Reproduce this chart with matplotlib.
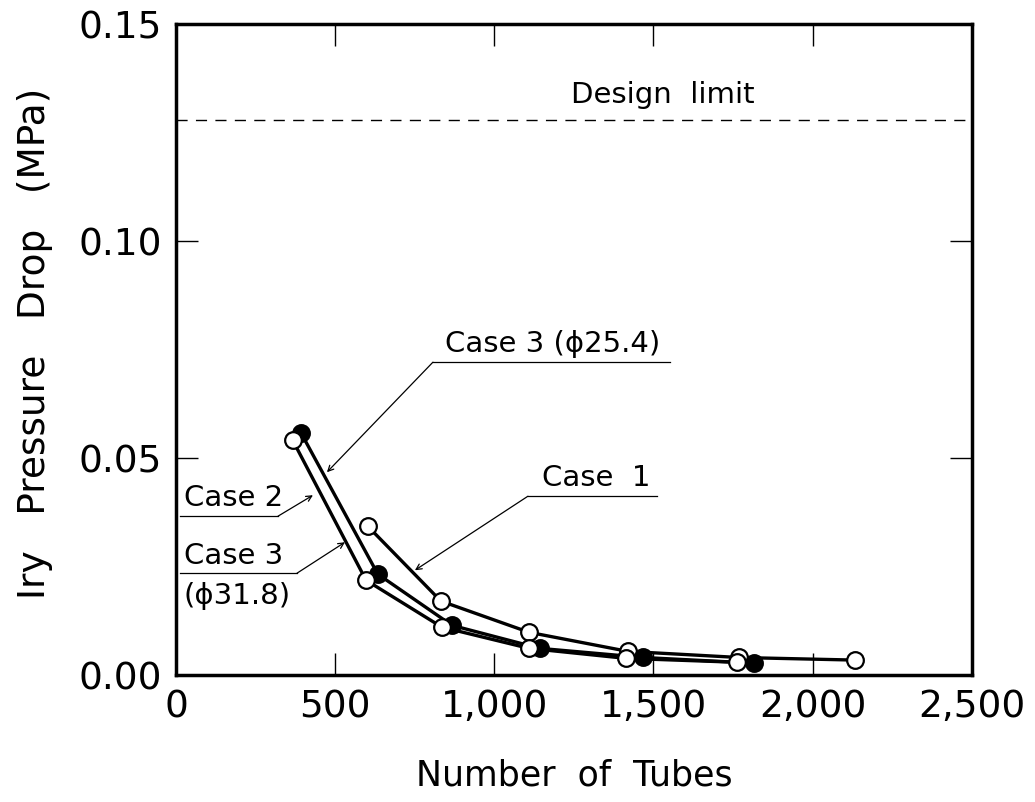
import matplotlib
matplotlib.use("Agg")
import matplotlib.pyplot as plt

# Data
case1_x = [603, 832, 1109, 1420, 1768, 2133]
case1_y = [0.0343, 0.0171, 0.0099, 0.0055, 0.0041, 0.0035]

case2_x = [393, 634, 867, 1143, 1467, 1815]
case2_y = [0.0558, 0.0233, 0.0115, 0.0062, 0.0041, 0.0028]

case3_318_x = [367, 597, 835, 1109, 1413, 1762]
case3_318_y = [0.0541, 0.0219, 0.0111, 0.0062, 0.0039, 0.0030]

design_limit = 0.128

xticks = [0, 500, 1000, 1500, 2000, 2500]
xtick_labels = ["0", "500", "1,000", "1,500", "2,000", "2,500"]
yticks = [0.0, 0.05, 0.10, 0.15]
ytick_labels = ["0.00", "0.05", "0.10", "0.15"]

plt.rcParams['font.family'] = ['DejaVu Sans']

fig = plt.figure(figsize=(10.35, 8.02), dpi=100)
ax = fig.add_axes([0.170, 0.158, 0.769, 0.812])

lw = 2.4
ms = 12
ax.plot(case1_x, case1_y, '-o', color='black', lw=lw, ms=ms,
        mfc='white', mec='black', mew=1.6, zorder=3)
ax.plot(case2_x, case2_y, '-o', color='black', lw=lw, ms=ms,
        mfc='black', mec='black', mew=1.6, zorder=3)
ax.plot(case3_318_x, case3_318_y, '-o', color='black', lw=lw, ms=ms,
        mfc='white', mec='black', mew=1.6, zorder=4)

ax.axhline(design_limit, color='black', lw=1.0, ls=(0, (8, 6)))
ax.text(1530, 0.1305, "Design  limit", fontsize=21, ha='center', va='bottom')


def px(x, y):
    # figure pixel -> data
    return ((x - 176) / 0.3184, (675 - y) / 4340.0)


def callout(label, text_xy, line_x0, line_x1, line_y, tip, ha='left'):
    x0, y0 = px(line_x0, line_y)
    x1, _ = px(line_x1, line_y)
    ax.plot([x0, x1], [y0, y0], color='black', lw=0.9)
    tx, ty = px(*text_xy)
    ax.text(tx, ty, label, fontsize=21, ha=ha, va='bottom')
    ex = x1 if line_x1 < 400 else x0
    ax.annotate('', xy=px(*tip), xytext=(ex, y0),
                arrowprops=dict(arrowstyle='->', lw=0.9, color='black',
                                shrinkA=0, shrinkB=0))


callout("Case 3 (\u03d525.4)", (445, 358), 433, 670, 362, (327, 472))
callout("Case  1", (542, 492), 528, 657, 496, (415, 570))
callout("Case 2", (184, 512), 180, 278, 516, (313, 495))
callout("Case 3", (184, 570), 180, 297, 573, (345, 542))
ax.text(*px(184, 610), "(\u03d531.8)", fontsize=21, ha='left', va='bottom')

ax.set_xlim(0, 2500)
ax.set_ylim(0, 0.15)
ax.set_xticks(xticks)
ax.set_xticklabels(xtick_labels)
ax.set_yticks(yticks)
ax.set_yticklabels(ytick_labels)
ax.tick_params(direction='in', length=16, width=1.0, top=True, right=True,
               labelsize=27, pad=10)
for s in ax.spines.values():
    s.set_linewidth(2.5)

ax.set_xlabel("Number  of  Tubes", fontsize=25, labelpad=24)
ax.set_ylabel("Iry   Pressure   Drop   (MPa)", fontsize=27)
ax.yaxis.set_label_coords(-0.155, 0.51)

fig.savefig("out.png", dpi=100)
